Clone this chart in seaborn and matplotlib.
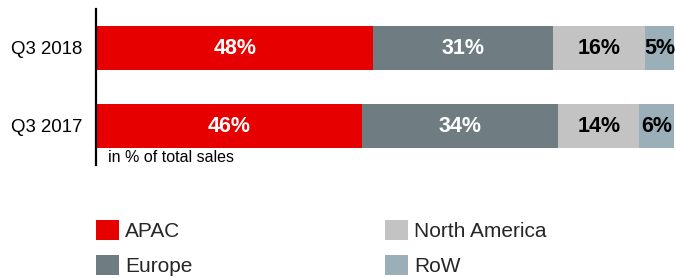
import matplotlib
matplotlib.use("Agg")
import matplotlib.pyplot as plt
import seaborn as sns
import numpy as np
from matplotlib.patches import Patch

periods = ["Q3 2018", "Q3 2017"]
regions = ["APAC", "Europe", "North America", "RoW"]
apac = [48, 46]
europe = [31, 34]
north_america = [16, 14]
row = [5, 6]
note = "in % of total sales"

colors = ["#E60000", "#6F7C82", "#C3C3C3", "#9AAFB8"]
label_colors = ["white", "white", "black", "black"]

sns.set_theme(style="white")
plt.rcParams['font.family'] = ['Liberation Sans', 'DejaVu Sans']

W, H = 676, 278
fig = plt.figure(figsize=(W / 100, H / 100), dpi=100)
ax = fig.add_axes([96 / W, 1 - 165 / H, (674 - 96) / W, (165 - 9) / H])

series = [apac, europe, north_america, row]
cum = np.cumsum(np.array(series), axis=0)

for i in range(len(series) - 1, -1, -1):
    sns.barplot(x=list(cum[i]), y=periods, orient="h", color=colors[i],
                width=0.56, saturation=1, linewidth=0, ax=ax)

for i, vals in enumerate(series):
    for j, v in enumerate(vals):
        center = cum[i][j] - v / 2
        ax.text(center, j, f"{v}%", ha="center", va="center",
                color=label_colors[i], fontsize=15.5, fontweight="bold")

ax.set_xlim(0, 100)
ax.set_ylim(1.5, -0.5)
ax.set_xlabel("")
ax.set_ylabel("")
ax.set_xticks([])
ax.tick_params(axis="y", length=0, pad=10, labelsize=13.4, labelcolor="black")
for s in ["top", "right", "bottom"]:
    ax.spines[s].set_visible(False)
ax.spines["left"].set_color("black")
ax.spines["left"].set_linewidth(1.6)

fig.text(108 / W, 1 - 157 / H, note, ha="left", va="center", fontsize=11.5, color="black")

handles = [Patch(facecolor=c, edgecolor="none") for c in colors]
fs = 15
fspx = fs * 100 / 72
fig.legend(handles, regions, loc="upper left", bbox_to_anchor=(96 / W, 1 - 220 / H),
           ncol=2, frameon=False, fontsize=fs, borderpad=0, borderaxespad=0,
           handlelength=23 / fspx, handleheight=23 / fspx, handletextpad=6 / fspx,
           columnspacing=193 / fspx, labelspacing=(37 - 23) / fspx)

fig.savefig("out.png", dpi=100)
